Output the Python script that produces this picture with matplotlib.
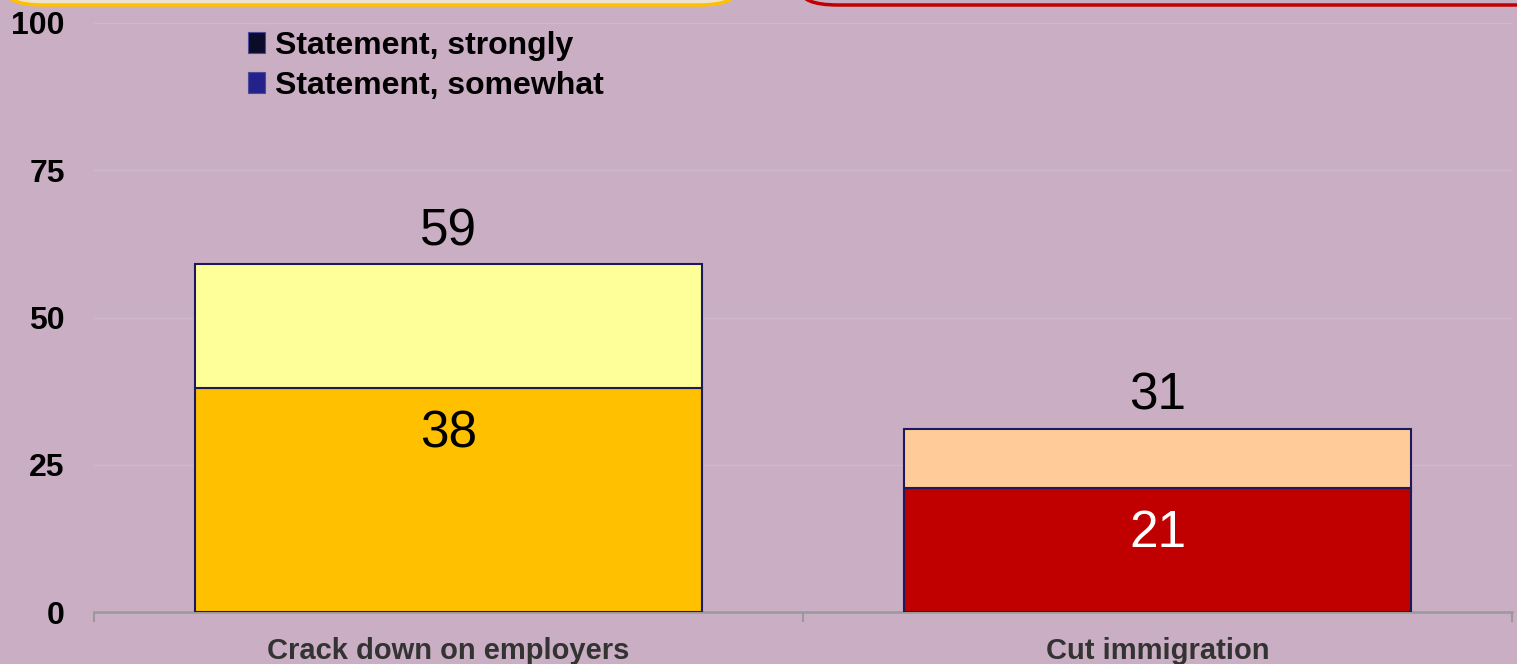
import matplotlib
matplotlib.use("Agg")
import matplotlib.pyplot as plt
from matplotlib.patches import FancyBboxPatch, Patch

# ---- data ----
categories = ["Crack down on employers", "Cut immigration"]
strongly = [38, 21]
somewhat = [21, 10]
totals = [59, 31]
legend_labels = ["Statement, strongly", "Statement, somewhat"]
yticks = [0, 25, 50, 75, 100]

# ---- styles ----
bg = "#CAAEC4"
strong_colors = ["#FFC000", "#C00000"]
somewhat_colors = ["#FFFF99", "#FFCC99"]
strong_label_colors = ["black", "white"]
legend_colors = ["#0B0B2A", "#22228A"]
edge = "#1C1A5C"

plt.rcParams['font.family'] = ['Liberation Sans', 'DejaVu Sans']

fig = plt.figure(figsize=(15.17, 6.64), dpi=100, facecolor=bg)
ax = fig.add_axes([94/1517, 52/664, 1418/1517, 589/664])
ax.set_facecolor(bg)

x = list(range(len(categories)))
w = 0.714
ax.bar(x, strongly, width=w, color=strong_colors, edgecolor=edge, linewidth=1.5, zorder=3)
ax.bar(x, somewhat, width=w, bottom=strongly, color=somewhat_colors, edgecolor=edge,
       linewidth=1.5, zorder=3)

for i in x:
    ax.text(i, totals[i] + 5.6, f"{totals[i]}", ha='center', va='center', fontsize=37,
            color='black', zorder=5)
    ax.text(i, strongly[i] - 7.7, f"{strongly[i]}", ha='center', va='center', fontsize=37,
            color=strong_label_colors[i], zorder=5)

ax.set_xlim(-0.5, len(categories) - 0.5)
ax.set_ylim(0, 100)
ax.set_yticks(yticks)
ax.set_yticklabels([str(t) for t in yticks], fontsize=23, fontweight='bold')
ax.tick_params(axis='y', length=0, pad=21)
ax.yaxis.grid(True, color='#D1B9CC', linewidth=1.0, zorder=0)
ax.set_axisbelow(True)

ax.set_xticks(x)
ax.set_xticklabels(categories, fontsize=21, fontweight='bold', color='#333333')
ax.tick_params(axis='x', length=0, pad=18)
# category boundary ticks
ax.set_xticks([-0.5, 0.5, 1.5], minor=True)
ax.tick_params(axis='x', which='minor', length=7, width=1.5, color='#999999')

for s in ['left', 'right', 'top']:
    ax.spines[s].set_visible(False)
ax.spines['bottom'].set_color('#999999')
ax.spines['bottom'].set_linewidth(1.8)

# legend
handles = [Patch(facecolor=c, edgecolor='#4A4A9A', linewidth=0.8) for c in legend_colors]
leg = ax.legend(handles, legend_labels, loc='upper left', bbox_to_anchor=(248/1517, 1 - 31/664),
                bbox_transform=fig.transFigure, frameon=False,
                prop={'weight': 'bold', 'size': 23}, handlelength=0.53, handleheight=0.63,
                handletextpad=0.3, labelspacing=0.3, borderaxespad=0, borderpad=0)

# decorative boxes cut at top
box1 = FancyBboxPatch((5/1517, 1 - 5/664), 732/1517, 0.1,
                      boxstyle="round,pad=0,rounding_size=0.025",
                      transform=fig.transFigure, facecolor='#EEE3CF', edgecolor='#FFC000',
                      linewidth=2.5, clip_on=False)
fig.patches.append(box1)
box2 = FancyBboxPatch((800/1517, 1 - 5/664), 800/1517, 0.1,
                      boxstyle="round,pad=0,rounding_size=0.025",
                      transform=fig.transFigure, facecolor=bg, edgecolor='#C00000',
                      linewidth=2.5, clip_on=False)
fig.patches.append(box2)

fig.savefig("out.png", dpi=100, facecolor=bg)
